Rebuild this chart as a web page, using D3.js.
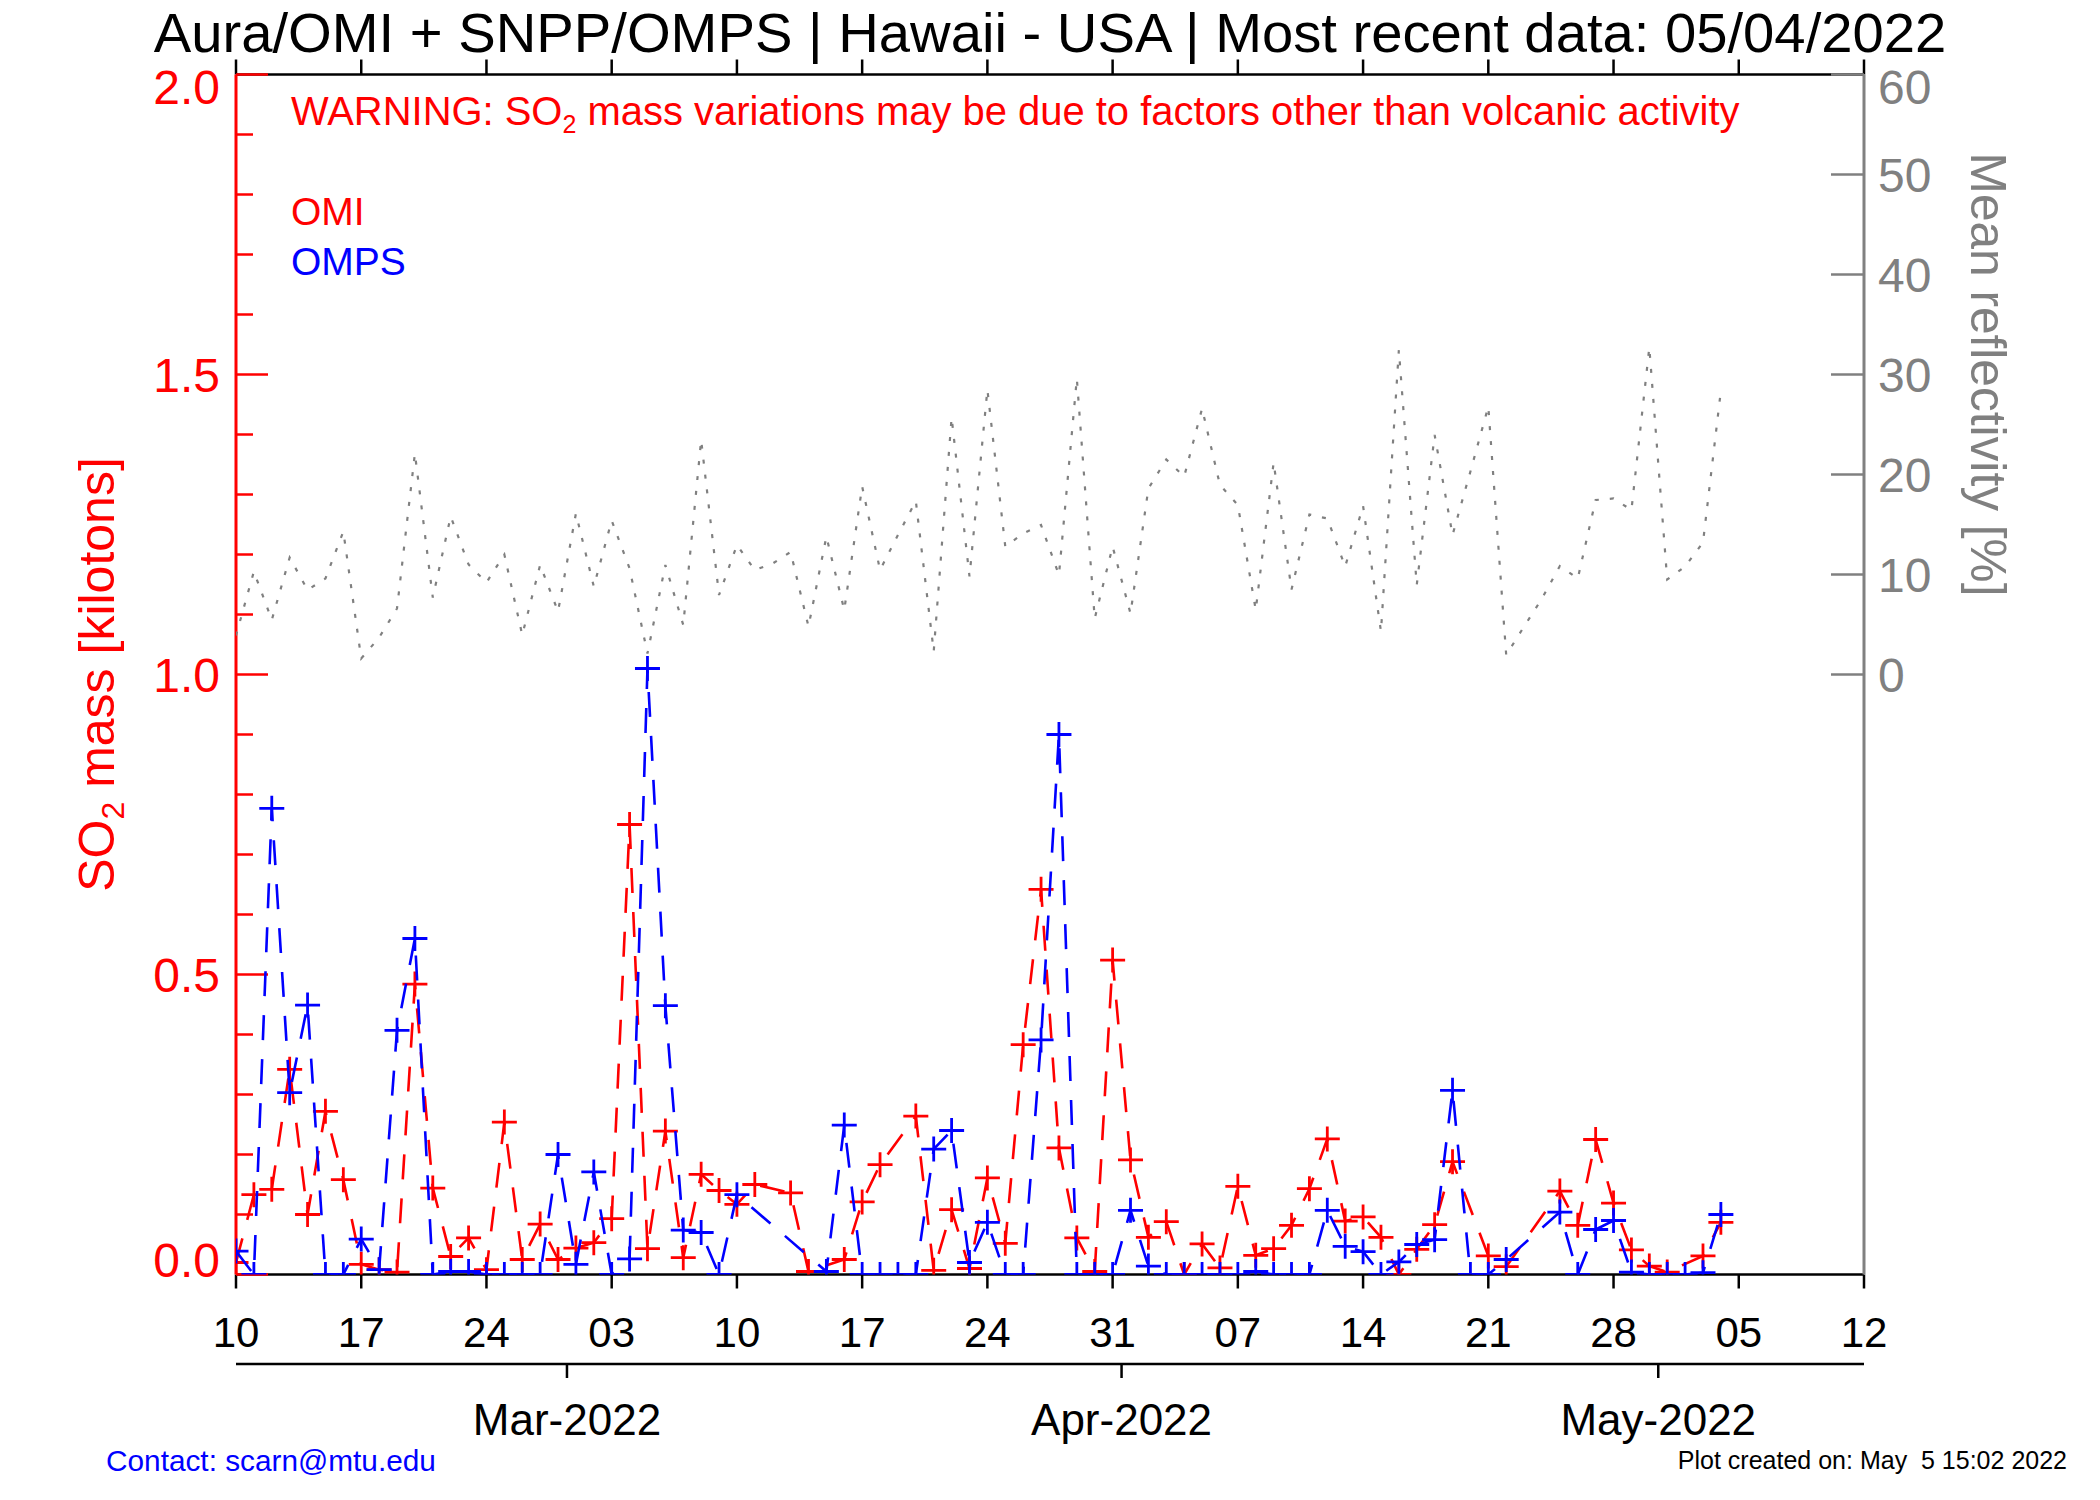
<!DOCTYPE html>
<html>
<head>
<meta charset="utf-8">
<script src="https://cdn.jsdelivr.net/npm/d3@7"></script>
<style>
  body { margin: 0; background: #fff; }
  svg { display: block; }
  text { font-family: "Liberation Sans", Arial, Helvetica, sans-serif; }
</style>
</head>
<body>
<div id="chart"></div>
<script>
// daily values, 10 Feb 2022 .. 04 May 2022 (null = no retrieval that day)
const startDay = new Date(Date.UTC(2022, 1, 10));
const lastDay = new Date(Date.UTC(2022, 4, 4));
const axisEnd = new Date(Date.UTC(2022, 4, 12));

const omi = [0.02, 0.133, 0.142, 0.342, 0.1, 0.272, 0.158, 0.017, 0.008, 0.004,
  0.484, 0.144, 0.03, 0.061, 0.008, 0.254, 0.025, 0.084, 0.025, 0.044,
  0.053, 0.093, 0.75, 0.043, 0.239, 0.028, 0.167, 0.14, 0.117, 0.15,
  null, 0.136, 0.005, null, 0.025, 0.121, 0.183, null, 0.264, 0.007,
  0.108, 0.01, 0.161, 0.052, 0.383, 0.642, 0.211, 0.061, 0.005, 0.524,
  0.191, 0.062, 0.088, 0.0, 0.051, 0.011, 0.147, 0.032, 0.043, 0.082,
  0.143, 0.226, 0.089, 0.096, 0.062, 0.0, 0.042, 0.083, 0.188, null,
  0.031, 0.013, null, null, 0.139, 0.082, 0.225, 0.119, 0.041, 0.014,
  0.004, null, 0.031, 0.087];

const omps = [0.039, 0, 0.777, 0.303, 0.449, 0, 0, 0.059, 0.008, 0.407,
  0.56, 0, 0.005, 0.005, 0, 0, 0, 0, 0.2, 0.017,
  0.171, 0, 0.026, 1.01, 0.448, 0.074, 0.07, 0, 0.133, null,
  null, null, null, 0.005, 0.249, 0, 0, 0, 0, 0.209,
  0.24, 0.02, 0.087, 0, 0, 0.391, 0.9, 0, 0, 0,
  0.107, 0.014, 0, 0, 0, 0, 0, 0.005, 0, 0,
  0, 0.107, 0.047, 0.038, 0, 0.021, 0.05, 0.058, 0.307, 0,
  0, 0.025, null, null, 0.104, 0, 0.075, 0.09, 0.004, 0,
  0, 0, 0.003, 0.1];

const reflectivity = [3.9, 10.3, 5.45, 11.7, 8.45, 9.6, 14.3, 1.6, 3.7, 6.6,
  22.1, 7.7, 15.8, 11.0, 9.2, 12.0, 3.95, 10.95, 6.3, 16.1,
  8.8, 15.4, 10.6, 2.1, 10.95, 4.95, 23.45, 7.95, 12.95, 10.45,
  11.1, 12.25, 4.8, 13.8, 6.45, 18.8, 10.45, 13.95, 17.35, 2.3,
  25.7, 9.8, 28.5, 12.8, 14.1, 14.95, 9.95, 29.6, 5.6, 12.8,
  6.1, 18.6, 21.5, 19.8, 26.6, 18.95, 16.95, 6.45, 21.2, 8.5,
  16.0, 15.6, 10.8, 16.85, 4.3, 32.45, 8.95, 23.95, 13.95, 20.3,
  26.8, 1.95, 4.8, 7.6, 10.85, 9.6, 17.45, 17.6, 16.45, 32.7,
  9.5, 10.8, 13.2, 28.4];

const leftTicks = [0, 0.5, 1.0, 1.5, 2.0];
const rightTicks = [0, 10, 20, 30, 40, 50, 60];
const monthStarts = [new Date(Date.UTC(2022, 2, 1)), new Date(Date.UTC(2022, 3, 1)), new Date(Date.UTC(2022, 4, 1))];

const titleText = "Aura/OMI + SNPP/OMPS | Hawaii - USA | Most recent data: 05/04/2022";
const plotCreated = "Plot created on: May  5 15:02 2022";
const contactText = "Contact: scarn@mtu.edu";

const W = 2100, H = 1500;
const MARGIN = { LEFT: 236, RIGHT: 236, TOP: 74.5, BOTTOM: 225.5 };
const X0 = MARGIN.LEFT, X1 = W - MARGIN.RIGHT, Y0 = MARGIN.TOP, Y1 = H - MARGIN.BOTTOM;

const days = d3.utcDay.range(startDay, d3.utcDay.offset(lastDay, 1));

const x = d3.scaleUtc().domain([startDay, axisEnd]).range([X0, X1]);
const yL = d3.scaleLinear().domain([0, 2]).range([Y1, Y0]);
const yR = d3.scaleLinear().domain([0, 60]).range([(Y0 + Y1) / 2, Y0]);

const svg = d3.select("#chart").append("svg").attr("width", W).attr("height", H);

// fit a text element to a measured width
function fitWidth(sel, target) {
  const w = sel.node().getComputedTextLength();
  const fs = parseFloat(sel.attr("font-size"));
  sel.attr("font-size", fs * target / w);
}

// title
let title = svg.append("text").attr("x", (X0 + X1) / 2).attr("y", 52)
  .attr("text-anchor", "middle").attr("font-size", 55).attr("fill", "#000")
  .text(titleText);
fitWidth(title, 1793);

// bottom (week) axis + top axis
const weekTicks = d3.utcDay.range(startDay, d3.utcDay.offset(axisEnd, 1), 7);
svg.append("line").attr("x1", X0).attr("x2", X1).attr("y1", Y1).attr("y2", Y1)
  .attr("stroke", "#000").attr("stroke-width", 2.5);
svg.append("line").attr("x1", X0).attr("x2", X1).attr("y1", Y0).attr("y2", Y0)
  .attr("stroke", "#000").attr("stroke-width", 2.5);
weekTicks.forEach(d => {
  svg.append("line").attr("x1", x(d)).attr("x2", x(d)).attr("y1", Y1).attr("y2", Y1 + 14)
    .attr("stroke", "#000").attr("stroke-width", 2.5);
  svg.append("line").attr("x1", x(d)).attr("x2", x(d)).attr("y1", Y0).attr("y2", Y0 - 15)
    .attr("stroke", "#000").attr("stroke-width", 2.5);
  svg.append("text").attr("x", x(d)).attr("y", 1347).attr("text-anchor", "middle")
    .attr("font-size", 42).attr("fill", "#000").text(d3.utcFormat("%d")(d));
});

// month axis
const yMonth = 1364;
svg.append("line").attr("x1", X0).attr("x2", X1).attr("y1", yMonth).attr("y2", yMonth)
  .attr("stroke", "#000").attr("stroke-width", 2.5);
monthStarts.forEach(d => {
  const mx = x(d3.utcHour.offset(d, -12));
  svg.append("line").attr("x1", mx).attr("x2", mx).attr("y1", yMonth).attr("y2", yMonth + 14)
    .attr("stroke", "#000").attr("stroke-width", 2.5);
  svg.append("text").attr("x", mx).attr("y", 1435).attr("text-anchor", "middle")
    .attr("font-size", 44).attr("fill", "#000").text(d3.utcFormat("%b-%Y")(d));
});

// left axis (SO2 mass)
svg.append("line").attr("x1", X0).attr("x2", X0).attr("y1", Y0).attr("y2", Y1)
  .attr("stroke", "#f00").attr("stroke-width", 3);
d3.range(0, 21).forEach(i => {
  const v = i / 10;
  const major = i % 5 === 0;
  svg.append("line").attr("x1", X0).attr("x2", X0 + (major ? 32 : 17))
    .attr("y1", yL(v)).attr("y2", yL(v)).attr("stroke", "#f00").attr("stroke-width", 2.5);
});
leftTicks.forEach((v, i) => {
  let shift = 0;
  if (i === 0) shift = -15;
  if (i === leftTicks.length - 1) shift = 12;
  svg.append("text").attr("x", 220).attr("y", yL(v) + shift).attr("dy", "0.36em")
    .attr("text-anchor", "end").attr("font-size", 48).attr("fill", "#f00")
    .text(d3.format(".1f")(v));
});
const yTitle = svg.append("text")
  .attr("transform", `translate(114,${(Y0 + Y1) / 2}) rotate(-90)`)
  .attr("text-anchor", "middle").attr("font-size", 50).attr("fill", "#f00");
yTitle.append("tspan").text("SO");
yTitle.append("tspan").attr("font-size", 32).attr("dy", 10).text("2");
yTitle.append("tspan").attr("dy", -10).text(" mass [kilotons]");

// right axis (reflectivity)
svg.append("line").attr("x1", X1).attr("x2", X1).attr("y1", Y0).attr("y2", Y1)
  .attr("stroke", "#808080").attr("stroke-width", 3);
rightTicks.forEach((v, i) => {
  svg.append("line").attr("x1", X1 - 33).attr("x2", X1).attr("y1", yR(v)).attr("y2", yR(v))
    .attr("stroke", "#808080").attr("stroke-width", 2.5);
  const shift = i === rightTicks.length - 1 ? 12 : 0;
  svg.append("text").attr("x", 1878).attr("y", yR(v) + shift).attr("dy", "0.36em")
    .attr("font-size", 48).attr("fill", "#808080").text(v);
});
let rTitle = svg.append("text")
  .attr("transform", `translate(1971,${yR(30)}) rotate(90)`)
  .attr("text-anchor", "middle").attr("font-size", 48).attr("fill", "#808080")
  .text("Mean reflectivity [%]");
fitWidth(rTitle, 444);

// warning + legend
const warn = svg.append("text").attr("x", 291).attr("y", 125)
  .attr("font-size", 39).attr("fill", "#f00");
warn.append("tspan").text("WARNING: SO");
warn.append("tspan").attr("font-size", 25).attr("dy", 8).text("2");
warn.append("tspan").attr("dy", -8).text(" mass variations may be due to factors other than volcanic activity");
fitWidth(warn, 1449);

svg.append("text").attr("x", 291).attr("y", 225).attr("font-size", 39).attr("fill", "#f00").text("OMI");
svg.append("text").attr("x", 291).attr("y", 275).attr("font-size", 39).attr("fill", "#00f").text("OMPS");

// data
svg.append("clipPath").attr("id", "plotclip").append("rect")
  .attr("x", X0).attr("y", Y0).attr("width", X1 - X0).attr("height", Y1 - Y0);
const g = svg.append("g").attr("clip-path", "url(#plotclip)");

const reflPts = days.map((d, i) => [d, reflectivity[i]]);
g.append("path")
  .attr("d", d3.line().x(d => x(d[0])).y(d => yR(d[1]))(reflPts))
  .attr("fill", "none").attr("stroke", "#808080").attr("stroke-width", 2.2)
  .attr("stroke-dasharray", "4,11");

function drawSeries(values, color) {
  const pts = days.map((d, i) => [d, values[i]]).filter(p => p[1] !== null);
  g.append("path")
    .attr("d", d3.line().x(d => x(d[0])).y(d => yL(d[1]))(pts))
    .attr("fill", "none").attr("stroke", color).attr("stroke-width", 2.6)
    .attr("stroke-dasharray", "25,19");
  const s = 12.5;
  g.selectAll(null).data(pts).enter().append("path")
    .attr("d", d => {
      const px = x(d[0]), py = yL(d[1]);
      return `M${px - s},${py}H${px + s}M${px},${py - s}V${py + s}`;
    })
    .attr("stroke", color).attr("stroke-width", 2.8).attr("fill", "none");
}
drawSeries(omi, "#f00");
drawSeries(omps, "#00f");

// footer
let contact = svg.append("text").attr("x", 106).attr("y", 1471).attr("font-size", 30).attr("fill", "#00f")
  .text(contactText);
fitWidth(contact, 330);
let created = svg.append("text").attr("x", 2067).attr("y", 1469).attr("text-anchor", "end")
  .attr("font-size", 25).attr("fill", "#000").style("white-space", "pre")
  .text(plotCreated);
</script>
</body>
</html>
